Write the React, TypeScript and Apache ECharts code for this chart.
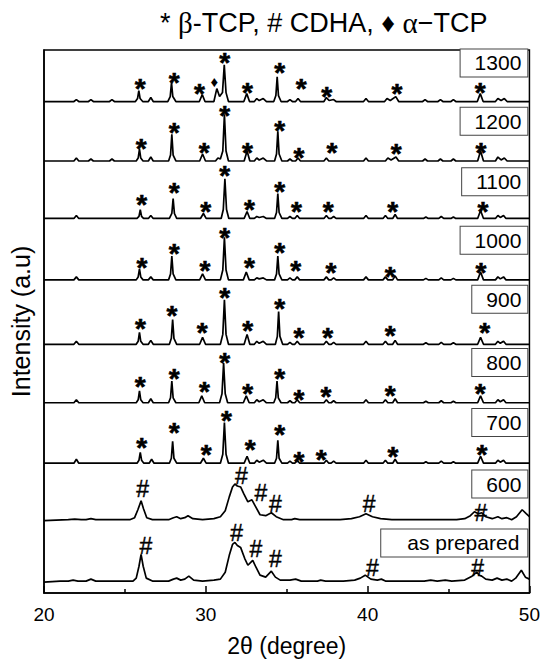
import React, { useEffect, useRef } from "react";
import * as echarts from "echarts";

// ---------- data ----------
const sampleNames = ["as prepared", "600", "700", "800", "900", "1000", "1100", "1200", "1300"];
const offsets = [11, 73, 131, 192, 251, 316, 378, 436, 496];
const xTicks = [20, 30, 40, 50];

const asPrepared = [
  [20, 0], [21.0, 1], [21.5, 1], [21.8, 2], [22.1, 1], [22.6, 1], [22.9, 3], [23.2, 1], [24.0, 1], [25.0, 1], [25.5, 1],
  [25.7, 4], [25.87, 16], [26.0, 28], [26.13, 16], [26.32, 4], [26.7, 1], [27.7, 1], [28.0, 3], [28.2, 4], [28.45, 2],
  [28.7, 3], [28.95, 6], [29.25, 2], [29.8, 1], [30.5, 2], [30.9, 3], [31.2, 10], [31.45, 27], [31.65, 38], [31.8, 40],
  [31.95, 37], [32.15, 35], [32.4, 24], [32.6, 17], [32.9, 22], [33.1, 15], [33.35, 7], [33.7, 5], [34.05, 11], [34.3, 5],
  [34.6, 2], [35.2, 2], [35.55, 3], [35.9, 1], [36.9, 1], [37.1, 2], [37.4, 1], [38.5, 1], [39.2, 2], [39.55, 4],
  [39.85, 7], [40.2, 3], [40.6, 2], [40.85, 3], [41.1, 1], [42, 1], [43.5, 1], [43.9, 2], [44.3, 1], [44.8, 2], [45.2, 1],
  [46.0, 2], [46.45, 6], [46.75, 10], [46.9, 7], [47.05, 6], [47.3, 3], [47.7, 2], [48.0, 4], [48.3, 2], [48.6, 3],
  [48.9, 1], [49.15, 4], [49.5, 12], [49.75, 5], [50, 3],
];

const t600 = [
  [20, 0], [21.5, 1], [21.9, 1.5], [22.3, 1], [22.6, 1], [22.9, 2], [23.2, 1], [24.0, 1], [24.5, 1], [25.3, 1],
  [25.6, 3], [25.8, 11], [26.0, 20], [26.15, 12], [26.35, 3], [26.7, 1], [27.7, 1], [28.0, 3], [28.2, 4], [28.45, 2],
  [28.7, 3], [28.9, 5], [29.2, 2], [29.8, 1], [30.5, 2], [30.9, 4], [31.2, 10], [31.45, 24], [31.65, 34], [31.8, 37],
  [31.95, 35], [32.15, 34], [32.35, 27], [32.6, 19], [32.85, 21], [33.05, 15], [33.35, 6], [33.7, 5], [34.05, 8],
  [34.35, 4], [34.8, 1], [35.3, 1], [35.5, 2], [35.8, 1], [36.5, 1], [37.0, 1], [38.3, 1], [39.0, 2], [39.5, 4],
  [39.9, 7], [40.3, 4], [40.8, 2], [41.5, 1], [42.5, 1], [43.5, 1], [44.5, 1], [45.5, 1], [46.0, 2], [46.35, 5],
  [46.6, 9], [46.85, 7], [47.05, 8], [47.3, 4], [47.7, 2], [48.05, 4], [48.3, 2], [48.6, 3], [48.9, 1], [49.2, 4],
  [49.55, 11], [49.8, 7], [50, 4],
];

const t700 = [
  [20, 0], [21.85, 0], [22.0, 4], [22.15, 0],
  [25.75, 0], [25.87, 3], [25.95, 11], [26.03, 3], [26.17, 0], [26.5, 0], [26.65, 4], [26.8, 0],
  [27.75, 0], [27.87, 5], [27.95, 22], [28.03, 5], [28.2, 0],
  [29.67, 0], [29.85, 5], [30.02, 0],
  [30.9, 0], [31.05, 9], [31.15, 41], [31.25, 9], [31.4, 0],
  [32.37, 0], [32.55, 7], [32.72, 0],
  [33.0, 0], [33.15, 3], [33.3, 1], [33.55, 3], [33.75, 0],
  [34.25, 0], [34.37, 5], [34.45, 23], [34.53, 5], [34.7, 0],
  [35.05, 0], [35.2, 2], [35.35, 0], [35.5, 0], [35.65, 3], [35.8, 0],
  [37.3, 0], [37.45, 3], [37.6, 0], [37.75, 0], [37.9, 2], [38.05, 0],
  [39.75, 0], [39.9, 3], [40.05, 0],
  [40.95, 0], [41.1, 3], [41.25, 0], [41.55, 0], [41.7, 4], [41.85, 0],
  [43.45, 0], [43.6, 1.5], [43.75, 0], [44.4, 0], [44.55, 2], [44.7, 0], [45.15, 0], [45.3, 1.5], [45.45, 0],
  [46.8, 0], [46.98, 7], [47.16, 0],
  [47.9, 0], [48.05, 3], [48.2, 1], [48.4, 3], [48.55, 0], [50, 0],
];

const t800 = [
  [20, 0], [21.85, 0], [22.0, 3], [22.15, 0],
  [25.7, 0], [25.82, 3], [25.9, 12], [25.98, 3], [26.12, 0], [26.45, 0], [26.6, 4], [26.75, 0],
  [27.7, 0], [27.82, 5], [27.9, 22], [27.98, 5], [28.15, 0],
  [29.57, 0], [29.75, 7], [29.93, 0],
  [30.85, 0], [31.0, 9], [31.1, 40], [31.2, 9], [31.35, 0],
  [32.32, 0], [32.5, 7], [32.68, 0],
  [33.0, 0], [33.15, 3], [33.3, 1], [33.55, 3], [33.75, 0],
  [34.2, 0], [34.32, 5], [34.4, 22], [34.48, 5], [34.65, 0],
  [35.05, 0], [35.2, 2], [35.35, 0], [35.5, 0], [35.65, 3], [35.8, 0],
  [37.3, 0], [37.45, 3], [37.6, 0], [37.75, 0], [37.9, 2], [38.05, 0],
  [39.75, 0], [39.9, 3], [40.05, 0],
  [40.95, 0], [41.1, 3], [41.25, 0], [41.55, 0], [41.7, 4], [41.85, 0],
  [43.45, 0], [43.6, 1.5], [43.75, 0], [44.4, 0], [44.55, 2], [44.7, 0], [45.15, 0], [45.3, 1.5], [45.45, 0],
  [46.8, 0], [46.98, 7], [47.16, 0],
  [47.9, 0], [48.05, 3], [48.2, 1], [48.4, 3], [48.55, 0], [50, 0],
];

const t900 = [
  [20, 0], [21.85, 0], [22.0, 3], [22.15, 0],
  [25.7, 0], [25.82, 3], [25.9, 12], [25.98, 3], [26.12, 0], [26.45, 0], [26.6, 4], [26.75, 0],
  [27.75, 0], [27.87, 6], [27.95, 25], [28.03, 6], [28.2, 0],
  [29.62, 0], [29.8, 7], [29.98, 0],
  [30.9, 0], [31.05, 10], [31.15, 45], [31.25, 10], [31.4, 0],
  [32.37, 0], [32.55, 10], [32.72, 0],
  [33.0, 0], [33.15, 3], [33.3, 1], [33.55, 3], [33.75, 0],
  [34.3, 0], [34.42, 8], [34.5, 33], [34.58, 8], [34.75, 0],
  [35.05, 0], [35.2, 2], [35.35, 0], [35.5, 0], [35.65, 3], [35.8, 0],
  [37.3, 0], [37.45, 3], [37.6, 0], [37.75, 0], [37.9, 2], [38.05, 0],
  [39.75, 0], [39.9, 3], [40.05, 0],
  [40.95, 0], [41.1, 3], [41.25, 0], [41.55, 0], [41.7, 4], [41.85, 0],
  [43.45, 0], [43.6, 1.5], [43.75, 0], [44.4, 0], [44.55, 2], [44.7, 0], [45.15, 0], [45.3, 1.5], [45.45, 0],
  [46.8, 0], [46.98, 7], [47.16, 0],
  [47.9, 0], [48.05, 3], [48.2, 1], [48.4, 3], [48.55, 0], [50, 0],
];

const t1000 = [
  [20, 0], [21.85, 0], [22.0, 3], [22.15, 0],
  [25.7, 0], [25.82, 3], [25.9, 11], [25.98, 3], [26.12, 0], [26.45, 0], [26.6, 3], [26.75, 0],
  [27.7, 0], [27.82, 6], [27.9, 24], [27.98, 6], [28.15, 0],
  [29.62, 0], [29.8, 6], [29.98, 0],
  [30.9, 0], [31.05, 10], [31.15, 43], [31.25, 10], [31.4, 0],
  [32.32, 0], [32.5, 8], [32.68, 0],
  [33.0, 0], [33.15, 2], [33.3, 1], [33.55, 2], [33.75, 0],
  [34.25, 0], [34.37, 6], [34.45, 24], [34.53, 6], [34.7, 0],
  [35.05, 0], [35.2, 2], [35.35, 0], [35.5, 0], [35.65, 3], [35.8, 0],
  [37.3, 0], [37.45, 3], [37.6, 0], [37.75, 0], [37.9, 2], [38.05, 0],
  [39.75, 0], [39.9, 3], [40.05, 0],
  [40.95, 0], [41.1, 3], [41.25, 0], [41.55, 0], [41.7, 4], [41.85, 0],
  [43.45, 0], [43.6, 1.5], [43.75, 0], [44.4, 0], [44.55, 2], [44.7, 0], [45.15, 0], [45.3, 1.5], [45.45, 0],
  [46.8, 0], [46.98, 8], [47.16, 0],
  [47.9, 0], [48.05, 3], [48.2, 1], [48.4, 3], [48.55, 0], [50, 0],
];

const t1100 = [
  [20, 0], [21.85, 0], [22.0, 3], [22.15, 0],
  [25.75, 0], [25.87, 2], [25.95, 9], [26.03, 2], [26.15, 0], [26.45, 0], [26.6, 3], [26.75, 0],
  [27.75, 0], [27.9, 5], [27.98, 20], [28.06, 5], [28.2, 0],
  [29.67, 0], [29.85, 5], [30.02, 0],
  [30.95, 0], [31.08, 9], [31.18, 40], [31.28, 9], [31.42, 0],
  [32.37, 0], [32.55, 7], [32.72, 0],
  [33.0, 0], [33.15, 2], [33.3, 1], [33.55, 2], [33.75, 0],
  [34.25, 0], [34.37, 6], [34.45, 25], [34.53, 6], [34.7, 0],
  [35.05, 0], [35.2, 2], [35.35, 0], [35.5, 0], [35.65, 3], [35.8, 0],
  [37.3, 0], [37.45, 3], [37.6, 0], [37.75, 0], [37.9, 2], [38.05, 0],
  [39.75, 0], [39.9, 3], [40.05, 0],
  [40.95, 0], [41.1, 3], [41.25, 0], [41.55, 0], [41.7, 4], [41.85, 0],
  [43.45, 0], [43.6, 1.5], [43.75, 0], [44.4, 0], [44.55, 2], [44.7, 0], [45.15, 0], [45.3, 1.5], [45.45, 0],
  [46.8, 0], [46.98, 8], [47.16, 0],
  [47.9, 0], [48.05, 3], [48.2, 1], [48.4, 3], [48.55, 0], [50, 0],
];

const t1200 = [
  [20, 0], [21.85, 0], [22.0, 3], [22.15, 0], [22.75, 0], [22.9, 2], [23.05, 0], [24.05, 0], [24.2, 2], [24.35, 0],
  [25.7, 0], [25.82, 3], [25.9, 12], [25.98, 3], [26.12, 0], [26.45, 0], [26.6, 4], [26.75, 0],
  [27.7, 0], [27.82, 6], [27.9, 27], [27.98, 6], [28.15, 0],
  [29.62, 0], [29.8, 7], [29.98, 0],
  [30.6, 0], [30.75, 3], [30.9, 2], [31.05, 10], [31.15, 47], [31.25, 10], [31.4, 0],
  [32.37, 0], [32.55, 10], [32.72, 0],
  [33.0, 0], [33.15, 3], [33.3, 1], [33.55, 3], [33.75, 0],
  [34.25, 0], [34.37, 7], [34.45, 30], [34.53, 7], [34.7, 0],
  [35.05, 0], [35.2, 2], [35.35, 0], [35.55, 0], [35.7, 3], [35.85, 0],
  [37.3, 0], [37.45, 3], [37.6, 0],
  [39.75, 0], [39.9, 3], [40.05, 0],
  [41.1, 0], [41.25, 3], [41.45, 1], [41.75, 4], [41.92, 0],
  [43.4, 0], [43.55, 2], [43.7, 0], [44.35, 0], [44.5, 2], [44.65, 0], [45.15, 0], [45.3, 2], [45.45, 0],
  [46.8, 0], [46.98, 10], [47.16, 0],
  [47.9, 0], [48.05, 4], [48.25, 1], [48.45, 3], [48.62, 0], [50, 0],
];

const t1300 = [
  [20, 0], [21.85, 0], [22.0, 2], [22.15, 0], [22.75, 0], [22.9, 2], [23.05, 0], [24.05, 0], [24.2, 2], [24.35, 0],
  [25.65, 0], [25.78, 3], [25.86, 11], [25.94, 3], [26.1, 0], [26.45, 0], [26.6, 4], [26.75, 0],
  [27.65, 0], [27.8, 5], [27.88, 19], [27.96, 5], [28.15, 0],
  [29.6, 0], [29.78, 7], [29.95, 0],
  [30.5, 0], [30.68, 13], [30.85, 5], [31.03, 9], [31.14, 37], [31.25, 9], [31.4, 0],
  [32.35, 0], [32.53, 8], [32.7, 0],
  [33.0, 0], [33.15, 3], [33.3, 1], [33.55, 3], [33.75, 0],
  [34.2, 0], [34.33, 6], [34.41, 25], [34.49, 6], [34.65, 0],
  [35.05, 0], [35.2, 2], [35.35, 0], [35.55, 0], [35.7, 3], [35.85, 0],
  [37.3, 0], [37.45, 4], [37.62, 1], [37.9, 2], [38.05, 0],
  [39.75, 0], [39.9, 3], [40.05, 0],
  [41.05, 0], [41.2, 3], [41.4, 1], [41.74, 5], [41.92, 0],
  [43.4, 0], [43.55, 2], [43.7, 0], [44.35, 0], [44.5, 2], [44.65, 0], [45.15, 0], [45.3, 2], [45.45, 0],
  [46.78, 0], [46.96, 8], [47.14, 0],
  [47.9, 0], [48.05, 3], [48.25, 1], [48.45, 3], [48.62, 0], [50, 0],
];

const traces = [asPrepared, t600, t700, t800, t900, t1000, t1100, t1200, t1300];

// marker positions: [2theta, level above the trace baseline]
const hashAsPrepared = [[26.3, 36], [31.9, 50], [33.1, 33], [34.3, 23], [40.3, 14], [46.8, 14]];
const hash600 = [[26.1, 32], [32.2, 45], [33.4, 28], [34.3, 17], [40.1, 17], [47.0, 8]];
const stars700 = [[26.04, 22], [28.04, 37], [30.03, 15], [31.27, 49], [32.74, 20], [34.57, 35], [35.76, 8], [37.13, 10], [41.57, 13], [47.07, 15]];
const stars800 = [[25.94, 22], [28.04, 31], [29.92, 17], [31.16, 47], [32.59, 15], [34.57, 31], [35.76, 9], [37.43, 12], [41.4, 13], [46.96, 15]];
const stars900 = [[25.96, 22], [27.9, 35], [29.78, 18], [31.16, 53], [32.59, 20], [34.57, 42], [35.76, 13], [37.53, 13], [41.4, 15], [47.23, 18]];
const stars1000 = [[26.05, 19], [28.04, 33], [29.95, 16], [31.16, 49], [32.7, 19], [34.57, 34], [35.55, 16], [37.74, 14], [41.4, 9], [47.0, 14]];
const stars1100 = [[26.04, 20], [28.04, 32], [30.0, 13], [31.16, 49], [32.7, 15], [34.57, 33], [35.6, 13], [37.57, 13], [41.55, 13], [47.13, 13]];
const stars1200 = [[26.0, 19], [28.04, 35], [29.9, 15], [31.16, 52], [32.57, 15], [34.57, 37], [35.76, 10], [37.8, 15], [41.76, 14], [47.0, 15]];
const stars1300 = [[25.94, 19], [28.04, 25], [29.6, 14], [31.16, 45], [32.57, 15], [34.57, 35], [35.9, 19], [37.47, 11], [41.82, 14], [46.96, 15.5]];
const diamond1300 = [[30.53, 20]];

// ---------- layout ----------
const W = 543;
const H = 662;
const FONT = "'Liberation Sans', Arial, sans-serif";
const SERIF = "'Liberation Serif', 'Times New Roman', serif";
const labelLift = [39.5, 37, 41, 40.5, 45.5, 40, 37, 40, 39];
const labelX = 49.9;

export default function App() {
  const ref = useRef<HTMLDivElement>(null);

  useEffect(() => {
    if (!ref.current) return;
    const chart = echarts.init(ref.current, undefined, { renderer: "svg" });

    const lineSeries = traces.map((tr, i) => ({
      type: "line",
      name: sampleNames[i],
      data: tr.map((p) => [p[0], p[1] + offsets[i]]),
      symbol: "none",
      smooth: false,
      lineStyle: { color: "#000", width: 1.7 },
      z: 2,
      silent: true,
    }));

    const starSets = [
      [2, stars700], [3, stars800], [4, stars900], [5, stars1000],
      [6, stars1100], [7, stars1200], [8, stars1300],
    ] as [number, number[][]][];
    const starData: number[][] = [];
    starSets.forEach(([idx, arr]) => arr.forEach((s) => starData.push([s[0], s[1] + offsets[idx]])));

    const hashData: number[][] = [
      ...hashAsPrepared.map((s) => [s[0], s[1] + offsets[0]]),
      ...hash600.map((s) => [s[0], s[1] + offsets[1]]),
    ];
    const diamondData = diamond1300.map((s) => [s[0], s[1] + offsets[8]]);

    const markerSeries = (
      name: string,
      data: number[][],
      text: string,
      fontSize: number,
      bold: boolean,
      dy: number,
      stroke: number
    ) => ({
      type: "scatter",
      name,
      data,
      symbol: "circle",
      symbolSize: 1,
      itemStyle: { color: "rgba(0,0,0,0)", opacity: 1 },
      z: 4,
      silent: true,
      clip: false,
      label: {
        show: true,
        position: "inside",
        formatter: text,
        fontSize,
        fontWeight: bold ? "bold" : "normal",
        fontFamily: FONT,
        color: "#000",
        opacity: 1,
        textBorderColor: "#000",
        textBorderWidth: stroke,
        offset: [0, dy],
      },
    });

    const labelSeries = {
      type: "scatter",
      name: "samples",
      data: sampleNames.map((n, i) => ({
        name: n,
        value: [labelX, offsets[i] + labelLift[i]],
        label: n === "as prepared" ? { padding: [3, 8, 3, 26] } : undefined,
      })),
      symbol: "circle",
      symbolSize: 1,
      itemStyle: { color: "rgba(0,0,0,0)", opacity: 1 },
      z: 5,
      silent: true,
      label: {
        show: true,
        position: "left",
        distance: 0,
        formatter: "{b}",
        fontSize: 21,
        lineHeight: 21,
        fontFamily: FONT,
        color: "#000",
        opacity: 1,
        padding: [3, 6, 3, 14],
        borderColor: "#444",
        borderWidth: 1,
        backgroundColor: "#fff",
      },
    };

    const option = {
      animation: false,
      backgroundColor: "#fff",
      title: {
        text: "* {g|β}-TCP, # CDHA, ♦ {g|α}−TCP",
        left: 155,
        top: 3,
        textStyle: {
          fontFamily: FONT,
          fontSize: 27,
          fontWeight: "normal",
          color: "#000",
          rich: {
            g: { fontFamily: SERIF, fontSize: 29, color: "#000" },
          },
        },
      },
      grid: {
        left: 42,
        right: W - 532,
        top: 50,
        bottom: H - 598,
        show: true,
        borderColor: "#000",
        borderWidth: 1.5,
        backgroundColor: "transparent",
      },
      xAxis: {
        type: "value",
        min: xTicks[0],
        max: xTicks[xTicks.length - 1],
        interval: 10,
        name: "2θ (degree)",
        nameLocation: "middle",
        nameGap: 41,
        nameTextStyle: { fontFamily: FONT, fontSize: 23, color: "#000" },
        axisLine: { show: true, lineStyle: { color: "#000", width: 1.5 } },
        axisTick: { show: true, inside: true, length: 7, lineStyle: { color: "#000", width: 1.5 } },
        minorTick: { show: true, splitNumber: 2, length: 4, lineStyle: { color: "#000", width: 1.5 } },
        axisLabel: { fontFamily: FONT, fontSize: 19, color: "#000", margin: 12 },
        splitLine: { show: false },
      },
      yAxis: {
        type: "value",
        min: 0,
        max: 548,
        name: "Intensity (a.u)",
        nameLocation: "middle",
        nameGap: 11,
        nameTextStyle: { fontFamily: FONT, fontSize: 25, color: "#000" },
        axisLine: { show: true, lineStyle: { color: "#000", width: 1.5 } },
        axisTick: { show: false },
        axisLabel: { show: false },
        splitLine: { show: false },
      },
      series: [
        ...lineSeries,
        markerSeries("β-TCP", starData, "*", 28, true, 6, 0.6),
        markerSeries("CDHA", hashData, "#", 23, false, 0, 0.4),
        markerSeries("α-TCP", diamondData, "♦", 15, false, 0, 0),
        labelSeries,
      ],
    };

    chart.setOption(option as any);
    return () => chart.dispose();
  }, []);

  return (
    <div
      ref={ref}
      style={{ position: "absolute", left: 0, top: 0, width: W, height: H, background: "#fff" }}
    />
  );
}
